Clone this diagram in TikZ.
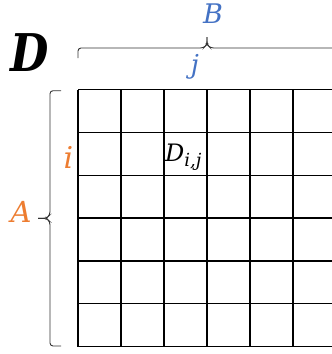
\documentclass[tikz,border=0pt]{standalone}
\usepackage{fontspec}
\newfontfamily\lblfont{DejaVu Serif}
\definecolor{lblue}{HTML}{4472C4}
\definecolor{lorange}{HTML}{ED7D31}
\tikzset{
  gridline/.style={line width=1.5pt, black},
  bracestyle/.style={line width=0.9pt, black!80, rounded corners=3pt},
  lbl/.style={inner sep=0pt, anchor=base},
}
\begin{document}
\begin{tikzpicture}[x=1pt,y=-1pt]
\useasboundingbox (0,0) rectangle (332,354);
% grid
\foreach \k in {0,...,6} {
  \draw[gridline] (78+43*\k, 89.7) -- (78+43*\k, 346.5);
  \draw[gridline] (78, 89.7+42.8*\k) -- (336, 89.7+42.8*\k);
}
% top brace
\draw[bracestyle] (78,58) -- (78,48) -- (203.5,48) -- (207,44.5) -- (207,37);
\draw[bracestyle] (207,37) -- (207,44.5) -- (210.5,48) -- (336,48) -- (336,58);
% left brace
\draw[bracestyle] (61,90.7) -- (50,90.7) -- (50,214.8) -- (46.5,218.3) -- (38,218.3);
\draw[bracestyle] (38,218.3) -- (46.5,218.3) -- (50,221.8) -- (50,346) -- (61,346);
% labels
\node[lbl, xscale=0.85] (bigD) at (30,71) {\lblfont\bfseries\itshape\fontsize{52}{56}\selectfont D};
\node[lbl, text=lblue] (B) at (213,23) {\lblfont\itshape\fontsize{27}{30}\selectfont B};
\node[lbl, text=lblue] (j) at (195,73) {\lblfont\itshape\fontsize{26}{30}\selectfont j};
\node[lbl, text=lorange] (i) at (68.5,168) {\lblfont\itshape\fontsize{30}{34}\selectfont i};
\node[lbl, text=lorange] (A) at (21,222) {\lblfont\itshape\fontsize{29}{32}\selectfont A};
\node[lbl, anchor=base west] (Dij) at (165,161) {\lblfont\itshape\fontsize{24}{28}\selectfont D\raisebox{-0.24em}{\fontsize{18}{20}\selectfont i,j}};
\end{tikzpicture}
\end{document}
